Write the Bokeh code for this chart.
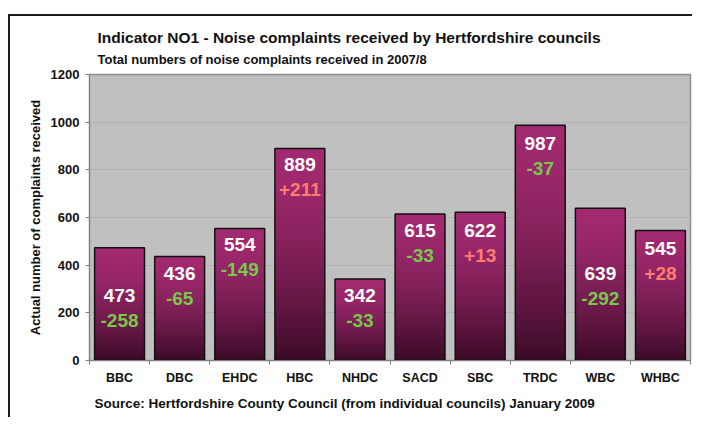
from bokeh.plotting import figure
from bokeh.models import FixedTicker, Range1d, ColumnDataSource, Title
from bokeh.embed import file_html
from bokeh.resources import INLINE
from bokeh.core.properties import value

# ---- data ----
categories = ["BBC", "DBC", "EHDC", "HBC", "NHDC", "SACD", "SBC", "TRDC", "WBC", "WHBC"]
complaints = [473, 436, 554, 889, 342, 615, 622, 987, 639, 545]
change = [-258, -65, -149, 211, -33, -33, 13, -37, -292, 28]
y_ticks = [0, 200, 400, 600, 800, 1000, 1200]

# ---- styling (label drop below bar top, px) ----
label_drop = [48, 17, 16, 16, 17, 17, 18, 18, 65, 18]

FONT = "Liberation Sans"
W, H = 692, 417
p = figure(width=W, height=H, output_backend="svg", toolbar_location=None,
           x_range=Range1d(0, len(categories)), y_range=Range1d(0, 1200),
           min_border_left=89, min_border_right=2, min_border_top=74, min_border_bottom=57)
p.background_fill_color = "#c0c0c0"
p.border_fill_color = "white"
p.border_fill_alpha = 0
p.outline_line_color = "#8e8e8e"
p.outline_line_width = 1.5
p.styles = {
    "background": ("linear-gradient(#1c1c1c, #1c1c1c) 8px 14px / 100% 2px no-repeat, "
                   "linear-gradient(#1c1c1c, #1c1c1c) 8px 14px / 2px 100% no-repeat, white"),
}

xs = [i + 0.5 for i in range(len(categories))]

# gradient bars (stacked slices, slightly overlapping to avoid seams)
N = 60
top_c = (162, 42, 112)
bot_c = (58, 10, 38)
gx, gb, gt, gc = [], [], [], []
for xi, v in zip(xs, complaints):
    for k in range(N):
        t = (k + 0.5) / N
        f = t ** 1.6
        c = tuple(int(round(a + (b - a) * f)) for a, b in zip(top_c, bot_c))
        gx.append(xi)
        gt.append(v * (1 - k / N))
        gb.append(max(0.0, v * (1 - (k + 1.7) / N)))
        gc.append("#%02x%02x%02x" % c)
p.vbar(x=gx, bottom=gb, top=gt, width=0.83, fill_color=gc, line_color=None)
p.vbar(x=xs, top=complaints, width=0.83, fill_color=None, line_color="#111111", line_width=1.5)

# labels
chg_text = [("+%d" % c) if c > 0 else ("-%d" % abs(c)) for c in change]
chg_col = ["#ff7d6e" if c > 0 else "#79c84a" for c in change]
src = ColumnDataSource(dict(x=xs, y=complaints, t=[str(v) for v in complaints],
                            d=label_drop, d2=[d + 25 for d in label_drop],
                            ct=chg_text, cc=chg_col))
p.text(x="x", y="y", text="t", y_offset="d", source=src, text_color="white",
       text_font=value(FONT), text_font_size="19px", text_align="center",
       text_baseline="middle", text_font_style="bold")
p.text(x="x", y="y", text="ct", y_offset="d2", source=src, text_color="cc",
       text_font=value(FONT), text_font_size="19px", text_align="center",
       text_baseline="middle", text_font_style="bold")

# axes
p.xgrid.grid_line_color = None
p.ygrid.grid_line_color = "#b2b2b2"
p.yaxis.ticker = FixedTicker(ticks=y_ticks)
p.yaxis.axis_line_color = "#808080"
p.yaxis.major_tick_line_color = "#808080"
p.yaxis.major_tick_out = 4
p.yaxis.major_tick_in = 0
p.yaxis.minor_tick_line_color = None
p.yaxis.major_label_text_font = FONT
p.yaxis.major_label_text_font_style = "bold"
p.yaxis.major_label_text_font_size = "13px"
p.yaxis.major_label_text_color = "#111111"
p.yaxis.major_label_standoff = 6
p.yaxis.axis_label = "Actual number of complaints received"
p.yaxis.axis_label_text_font = FONT
p.yaxis.axis_label_text_font_style = "bold"
p.yaxis.axis_label_text_font_size = "13px"
p.yaxis.axis_label_text_color = "#111111"
p.yaxis.axis_label_standoff = 5

p.xaxis.ticker = FixedTicker(ticks=xs, minor_ticks=list(range(len(categories) + 1)))
p.xaxis.major_label_overrides = {x: c for x, c in zip(xs, categories)}
p.xaxis.axis_line_color = "#808080"
p.xaxis.major_tick_line_color = None
p.xaxis.minor_tick_line_color = "#808080"
p.xaxis.minor_tick_out = 4
p.xaxis.minor_tick_in = 0
p.xaxis.major_label_text_font = FONT
p.xaxis.major_label_text_font_style = "bold"
p.xaxis.major_label_text_font_size = "12.5px"
p.xaxis.major_label_text_color = "#111111"
p.xaxis.major_label_standoff = 4

# titles
p.add_layout(Title(text="Total numbers of noise complaints received in 2007/8",
                   text_font=FONT, text_font_style="bold", text_font_size="13px",
                   text_color="#111111", align="left", offset=8, standoff=15), "above")
p.add_layout(Title(text="Indicator NO1 - Noise complaints received by Hertfordshire  councils",
                   text_font=FONT, text_font_style="bold", text_font_size="15.5px",
                   text_color="#111111", align="left", offset=8, standoff=-7), "above")
p.add_layout(Title(text="Source: Hertfordshire County Council (from individual councils) January 2009",
                   text_font=FONT, text_font_style="bold", text_font_size="13.5px",
                   text_color="#111111", align="left", offset=5, standoff=13), "below")

open("out.html", "w").write(file_html(p, INLINE))
